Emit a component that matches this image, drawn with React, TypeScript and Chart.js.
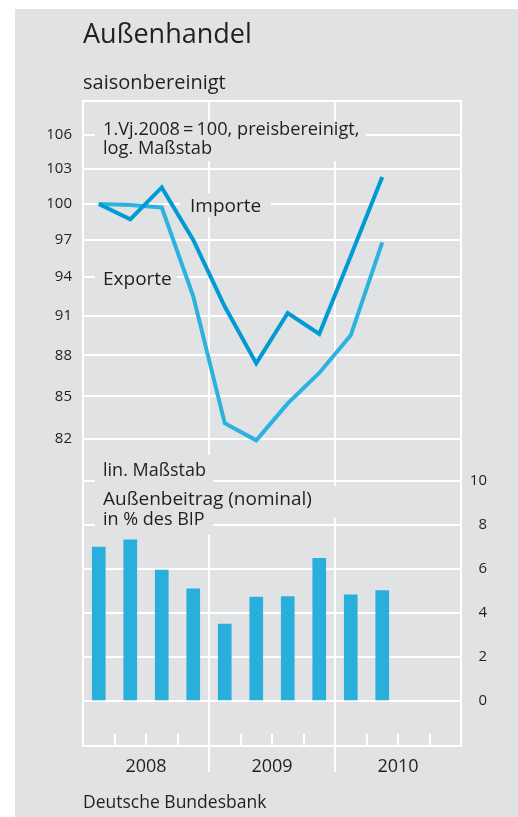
import React, { useEffect, useRef } from 'react';
import { Chart, registerables } from 'chart.js';

Chart.register(...registerables);

// ---------- data ----------
const quarters = [
  '2008 Q1', '2008 Q2', '2008 Q3', '2008 Q4',
  '2009 Q1', '2009 Q2', '2009 Q3', '2009 Q4',
  '2010 Q1', '2010 Q2', '2010 Q3', '2010 Q4',
];
const years = ['2008', '2009', '2010'];
const importe = [100, 98.7, 101.4, 97.0, 91.7, 87.4, 91.2, 89.6, 95.7, 102.3];
const exporte = [100, 99.9, 99.7, 92.5, 83.1, 81.9, 84.5, 86.7, 89.5, 96.8];
const aussenbeitrag = [7.0, 7.33, 5.95, 5.1, 3.5, 4.72, 4.75, 6.48, 4.83, 5.02];
const logTicks = [82, 85, 88, 91, 94, 97, 100, 103, 106];
const barTicks = [0, 2, 4, 6, 8, 10];

// axis ranges
const LOG_MIN = 63.27;
const LOG_MAX = 109.08;
const LIN_MIN = -2.045;
const LIN_MAX = 27.27;

// ---------- texts ----------
const TITLE = 'Außenhandel';
const SUBTITLE = 'saisonbereinigt';
const NOTE1 = '1.Vj.2008\u2009=\u2009100, preisbereinigt,';
const NOTE2 = 'log. Maßstab';
const LABEL_IMP = 'Importe';
const LABEL_EXP = 'Exporte';
const LIN1 = 'lin. Maßstab';
const LIN2 = 'Außenbeitrag (nominal)';
const LIN3 = 'in % des BIP';
const SOURCE = 'Deutsche Bundesbank';

// ---------- styles ----------
const FAMILY = '"Open Sans", "Noto Sans", sans-serif';
const BG = '#e1e2e4';
const TXT = '#231f20';
const IMP_COLOR = '#009bd5';
const EXP_COLOR = '#2cb2de';
const BAR_COLOR = '#28afdb';

const decor = {
  id: 'decor',
  beforeDraw(chart: any) {
    const { ctx, width, height } = chart;
    ctx.save();
    ctx.fillStyle = '#ffffff';
    ctx.fillRect(0, 0, width, height);
    ctx.fillStyle = BG;
    ctx.fillRect(15, 9, width - 15, height - 9);
    ctx.restore();
  },
  beforeDatasetsDraw(chart: any) {
    const { ctx, chartArea: a, scales } = chart;
    const xs = scales.x;
    ctx.save();
    ctx.strokeStyle = '#ffffff';
    ctx.lineWidth = 2;
    const line = (x1: number, y1: number, x2: number, y2: number) => {
      ctx.beginPath();
      ctx.moveTo(x1, y1);
      ctx.lineTo(x2, y2);
      ctx.stroke();
    };
    // frame
    ctx.strokeRect(a.left, a.top, a.right - a.left, a.bottom - a.top);
    // year separators and quarter ticks
    for (let q = 1; q < quarters.length; q++) {
      const px = Math.round(xs.getPixelForValue(q));
      if (q % 4 === 0) line(px, a.top, px, a.bottom + 26);
      else line(px, a.bottom - 12, px, a.bottom);
    }
    // label background boxes
    ctx.fillStyle = BG;
    ctx.fillRect(95, 121, 271, 40);
    ctx.fillRect(180, 193, 91, 24);
    ctx.fillRect(95, 265, 82, 26);
    ctx.fillRect(95, 455, 118, 80);
    ctx.fillRect(95, 486, 243, 32);

    // texts
    ctx.fillStyle = TXT;
    ctx.textBaseline = 'alphabetic';
    ctx.textAlign = 'left';
    const t = (s: string, x: number, y: number, size: number) => {
      ctx.font = `${size}px ${FAMILY}`;
      ctx.fillText(s, x, y);
    };
    t(TITLE, 83, 43, 27);
    t(SUBTITLE, 83, 89, 20);
    t(NOTE1, 103, 135, 18.2);
    t(NOTE2, 103, 154, 18.2);
    t(LABEL_IMP, 190, 212, 19);
    t(LABEL_EXP, 103, 285, 19);
    t(LIN1, 103, 476, 18);
    t(LIN2, 103, 505, 19);
    t(LIN3, 103, 525, 18);
    t(SOURCE, 83, 808, 17.5);
    ctx.restore();
  },
};

export default function App() {
  const ref = useRef<HTMLCanvasElement | null>(null);

  useEffect(() => {
    if (!ref.current) return;
    const chart = new Chart(ref.current, {
      type: 'line',
      data: {
        datasets: [
          {
            type: 'line',
            label: LABEL_IMP,
            data: importe.map((v, i) => ({ x: i + 0.5, y: v })),
            yAxisID: 'y',
            borderColor: IMP_COLOR,
            borderWidth: 4,
            pointRadius: 0,
            tension: 0,
            borderJoinStyle: 'miter',
            borderCapStyle: 'butt',
          },
          {
            type: 'line',
            label: LABEL_EXP,
            data: exporte.map((v, i) => ({ x: i + 0.5, y: v })),
            yAxisID: 'y',
            borderColor: EXP_COLOR,
            borderWidth: 4,
            pointRadius: 0,
            tension: 0,
            borderJoinStyle: 'miter',
            borderCapStyle: 'butt',
          },
          {
            type: 'bar',
            label: LIN2,
            data: aussenbeitrag.map((v, i) => ({ x: i + 0.5, y: v })),
            yAxisID: 'y2',
            backgroundColor: BAR_COLOR,
            barThickness: 13,
            borderWidth: 0,
          },
        ],
      } as any,
      options: {
        animation: false,
        responsive: false,
        events: [],
        layout: { padding: { top: 101, left: 0, right: 31, bottom: 0 } },
        plugins: { legend: { display: false }, tooltip: { enabled: false } },
        scales: {
          x: {
            type: 'linear',
            position: 'bottom',
            min: 0,
            max: quarters.length,
            offset: false,
            afterBuildTicks: (s: any) => {
              s.ticks = years.map((_, i) => ({ value: i * 4 + 2 }));
            },
            afterFit: (s: any) => {
              s.height = 71;
            },
            ticks: {
              autoSkip: false,
              maxRotation: 0,
              padding: 2,
              color: TXT,
              font: { family: FAMILY, size: 18 },
              callback: (v: any) => years[Math.round((Number(v) - 2) / 4)] ?? '',
            },
            grid: { display: false },
            border: { display: false },
          },
          y: {
            type: 'logarithmic',
            position: 'left',
            min: LOG_MIN,
            max: LOG_MAX,
            afterBuildTicks: (s: any) => {
              s.ticks = logTicks.map((v) => ({ value: v }));
            },
            afterFit: (s: any) => {
              s.width = 83;
            },
            ticks: {
              autoSkip: false,
              padding: 11,
              color: TXT,
              font: { family: FAMILY, size: 15 },
              callback: (v: any) => String(v),
            },
            grid: { color: '#ffffff', lineWidth: 2, drawTicks: false },
            border: { display: false },
          },
          y2: {
            type: 'linear',
            position: 'right',
            min: LIN_MIN,
            max: LIN_MAX,
            afterBuildTicks: (s: any) => {
              s.ticks = barTicks.map((v) => ({ value: v }));
            },
            afterFit: (s: any) => {
              s.width = 26;
            },
            ticks: {
              autoSkip: false,
              crossAlign: 'far',
              padding: 0,
              color: TXT,
              font: { family: FAMILY, size: 15 },
              callback: (v: any) => String(v),
            },
            grid: { color: '#ffffff', lineWidth: 2, drawTicks: false },
            border: { display: false },
          },
        },
      } as any,
      plugins: [decor],
    });
    return () => chart.destroy();
  }, []);

  return (
    <div style={{ position: 'absolute', left: 0, top: 0, width: 518, height: 817 }}>
      <canvas ref={ref} width={518} height={817} style={{ display: 'block', width: 518, height: 817 }} />
    </div>
  );
}
